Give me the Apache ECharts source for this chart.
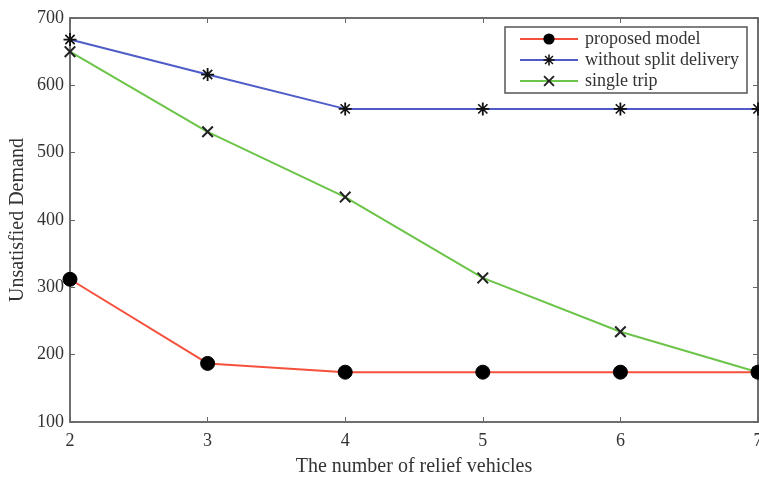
<!DOCTYPE html>
<html>
<head>
<meta charset="utf-8">
<script src="https://cdn.jsdelivr.net/npm/echarts@6/dist/echarts.min.js"></script>
<style>
html, body { margin: 0; padding: 0; background: #fff; }
#chart-wrap { width: 759px; height: 479px; }
</style>
</head>
<body>
<div id="chart-wrap"></div>
<script>
var vehicles = [2, 3, 4, 5, 6, 7];
var proposedModel = [312, 187, 174, 174, 174, 174];
var withoutSplit = [668, 616, 565, 565, 565, 565];
var singleTrip = [650, 531, 434, 314, 234, 174];
var seriesNames = ['proposed model', 'without split delivery', 'single trip'];

// marker shapes (filled paths)
var crossPath = 'path://M0,1.2 L1.2,0 L5,3.8 L8.8,0 L10,1.2 L6.2,5 L10,8.8 L8.8,10 L5,6.2 L1.2,10 L0,8.8 L3.8,5 Z';
var starPath = 'path://M4.3,0 L5.7,0 L5.7,10 L4.3,10 Z M0,4.3 L10,4.3 L10,5.7 L0,5.7 Z ' +
    'M1,1.9 L1.9,1 L9,8.1 L8.1,9 Z M8.1,1 L9,1.9 L1.9,9 L1,8.1 Z';

var toPairs = function (arr) {
    var res = [];
    for (var i = 0; i < arr.length; i++) {
        res.push([vehicles[i], arr[i]]);
    }
    return res;
};

var serifFont = 'Liberation Serif';
var axisGray = '#666';

var myChart = echarts.init(document.getElementById('chart-wrap'));

option = {
    backgroundColor: '#fff',
    animation: false,
    textStyle: { fontFamily: serifFont },
    grid: {
        left: 70,
        right: 1,
        top: 18,
        bottom: 57,
        containLabel: false,
        outerBoundsMode: 'none',
        show: true,
        borderColor: axisGray,
        borderWidth: 1.5
    },
    legend: {
        orient: 'vertical',
        left: 505,
        top: 27,
        padding: [3, 8, 3, 14],
        itemGap: 3,
        itemWidth: 58,
        itemHeight: 14,
        borderColor: '#555',
        borderWidth: 1.5,
        backgroundColor: '#fff',
        data: seriesNames,
        textStyle: {
            fontFamily: serifFont,
            fontSize: 18,
            color: '#333',
            padding: [0, 0, 0, 2]
        }
    },
    xAxis: [
        {
            type: 'value',
            min: 2,
            max: 7,
            interval: 1,
            name: 'The number of relief vehicles',
            nameLocation: 'middle',
            nameGap: 35,
            nameTextStyle: { fontFamily: serifFont, fontSize: 20, color: '#333' },
            axisLine: { show: true, lineStyle: { color: axisGray, width: 1.5 } },
            axisTick: { inside: true, length: 5, lineStyle: { color: axisGray } },
            axisLabel: { fontFamily: serifFont, fontSize: 18, color: '#333', margin: 10 },
            splitLine: { show: false }
        },
        {
            type: 'value',
            position: 'top',
            min: 2,
            max: 7,
            interval: 1,
            axisLine: { show: true, lineStyle: { color: axisGray, width: 1.5 } },
            axisTick: { inside: true, length: 5, lineStyle: { color: axisGray } },
            axisLabel: { show: false },
            splitLine: { show: false }
        }
    ],
    yAxis: [
        {
            type: 'value',
            min: 100,
            max: 700,
            interval: 100,
            name: 'Unsatisfied Demand',
            nameLocation: 'middle',
            nameGap: 42,
            nameMoveOverlap: false,
            nameTextStyle: { fontFamily: serifFont, fontSize: 20, color: '#333' },
            axisLine: { show: true, lineStyle: { color: axisGray, width: 1.5 } },
            axisTick: { inside: true, length: 5, lineStyle: { color: axisGray } },
            axisLabel: { fontFamily: serifFont, fontSize: 18, color: '#333', margin: 6 },
            splitLine: { show: false }
        },
        {
            type: 'value',
            position: 'right',
            min: 100,
            max: 700,
            interval: 100,
            axisLine: { show: true, lineStyle: { color: axisGray, width: 1.5 } },
            axisTick: { inside: true, length: 5, lineStyle: { color: axisGray } },
            axisLabel: { show: false },
            splitLine: { show: false }
        }
    ],
    series: [
        {
            name: seriesNames[0],
            type: 'line',
            data: toPairs(proposedModel),
            symbol: 'circle',
            symbolSize: 14,
            lineStyle: { color: '#f5503c', width: 2 },
            itemStyle: { color: '#000', borderColor: '#000' },
            z: 4
        },
        {
            name: seriesNames[1],
            type: 'line',
            data: toPairs(withoutSplit),
            symbol: starPath,
            symbolSize: 13,
            lineStyle: { color: '#4f5cc8', width: 2 },
            itemStyle: { color: '#111', borderColor: '#111', borderWidth: 0 },
            z: 3
        },
        {
            name: seriesNames[2],
            type: 'line',
            data: toPairs(singleTrip),
            symbol: crossPath,
            symbolSize: 12,
            lineStyle: { color: '#6cc449', width: 2 },
            itemStyle: { color: '#222', borderColor: '#222', borderWidth: 0 },
            z: 2
        }
    ]
};
myChart.setOption(option);
</script>
</body>
</html>
